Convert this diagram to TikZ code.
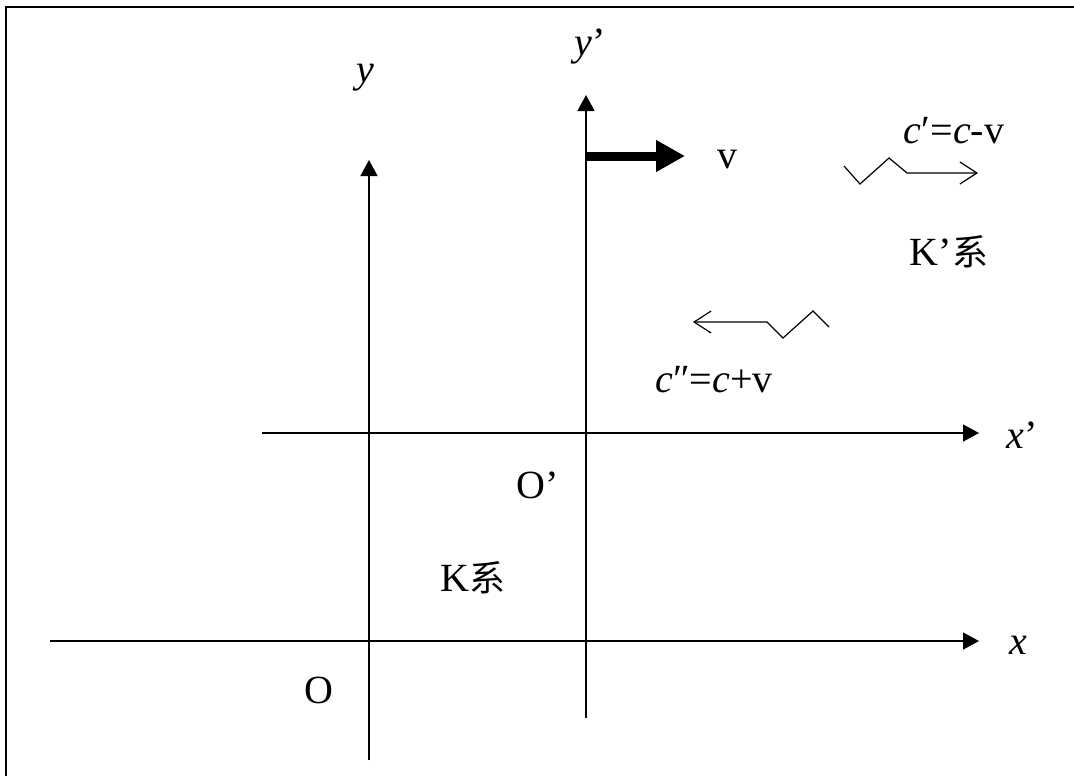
\documentclass[tikz,border=0pt]{standalone}
\usepackage{fontspec}
\setmainfont{Liberation Serif}
\newfontfamily\cjk{Noto Sans CJK SC}
\usetikzlibrary{arrows.meta}

\begin{document}
\begin{tikzpicture}[x=0.5pt,y=-0.5pt,
  axis/.style={line width=0.75pt,-{Triangle[length=8pt,width=8.5pt]}},
  wave/.style={line width=0.6pt,-{Straight Barb[length=8.5pt,width=11pt]}},
  lab/.style={inner sep=0pt,font=\fontsize{20}{24}\selectfont}]
\useasboundingbox (0,0) rectangle (1074,776);
\draw[line width=0.75pt] (6,776) -- (6,7) -- (1074,7);
% K frame
\coordinate (xfrom) at (50,641);
\coordinate (xto) at (979,641);
\coordinate (yfrom) at (369,760);
\coordinate (yto) at (369,160);
\draw[axis] (xfrom) -- (xto);
\draw[axis] (yfrom) -- (yto);
\node (xlab) [lab] at (1018,645) {\textit{x}};
\node (ylab) [lab] at (365,78) {\textit{y}};
\node (orig) [lab] at (319,690) {O};
\node (ksys) [lab] at (473,578) {K{\cjk\fontsize{18}{22}\selectfont 系}};
% K' frame
\coordinate (xpfrom) at (262,433);
\coordinate (xpto) at (979,433);
\coordinate (ypfrom) at (586,718);
\coordinate (ypto) at (586,95);
\draw[axis] (xpfrom) -- (xpto);
\draw[axis] (ypfrom) -- (ypto);
\node (xplab) [lab] at (1022,435) {\textit{x}’};
\node (yplab) [lab] at (590,47) {\textit{y}’};
\node (origp) [lab] at (538,485) {O’};
\node (kpsys) [lab] at (949,252) {K’{\cjk\fontsize{18}{22}\selectfont 系}};
% velocity
\coordinate (vfrom) at (586,156);
\node (vlab) [lab] at (727,160) {v};
\draw[line width=4.5pt,-{Triangle[length=14.5pt,width=15pt]}] (vfrom) -- (685,156);
% light signals
\node (cp) [lab] at (954,131) {\textit{c}′=\textit{c}-v};
\node (cpp) [lab] at (714,380) {\textit{c}″=\textit{c}+v};
\draw[wave] (844,166) -- (860,184) -- (889,158) -- (907,173) -- (978,173);
\draw[wave] (829,327) -- (813,311) -- (783,338) -- (767,322) -- (693,322);
\end{tikzpicture}
\end{document}
